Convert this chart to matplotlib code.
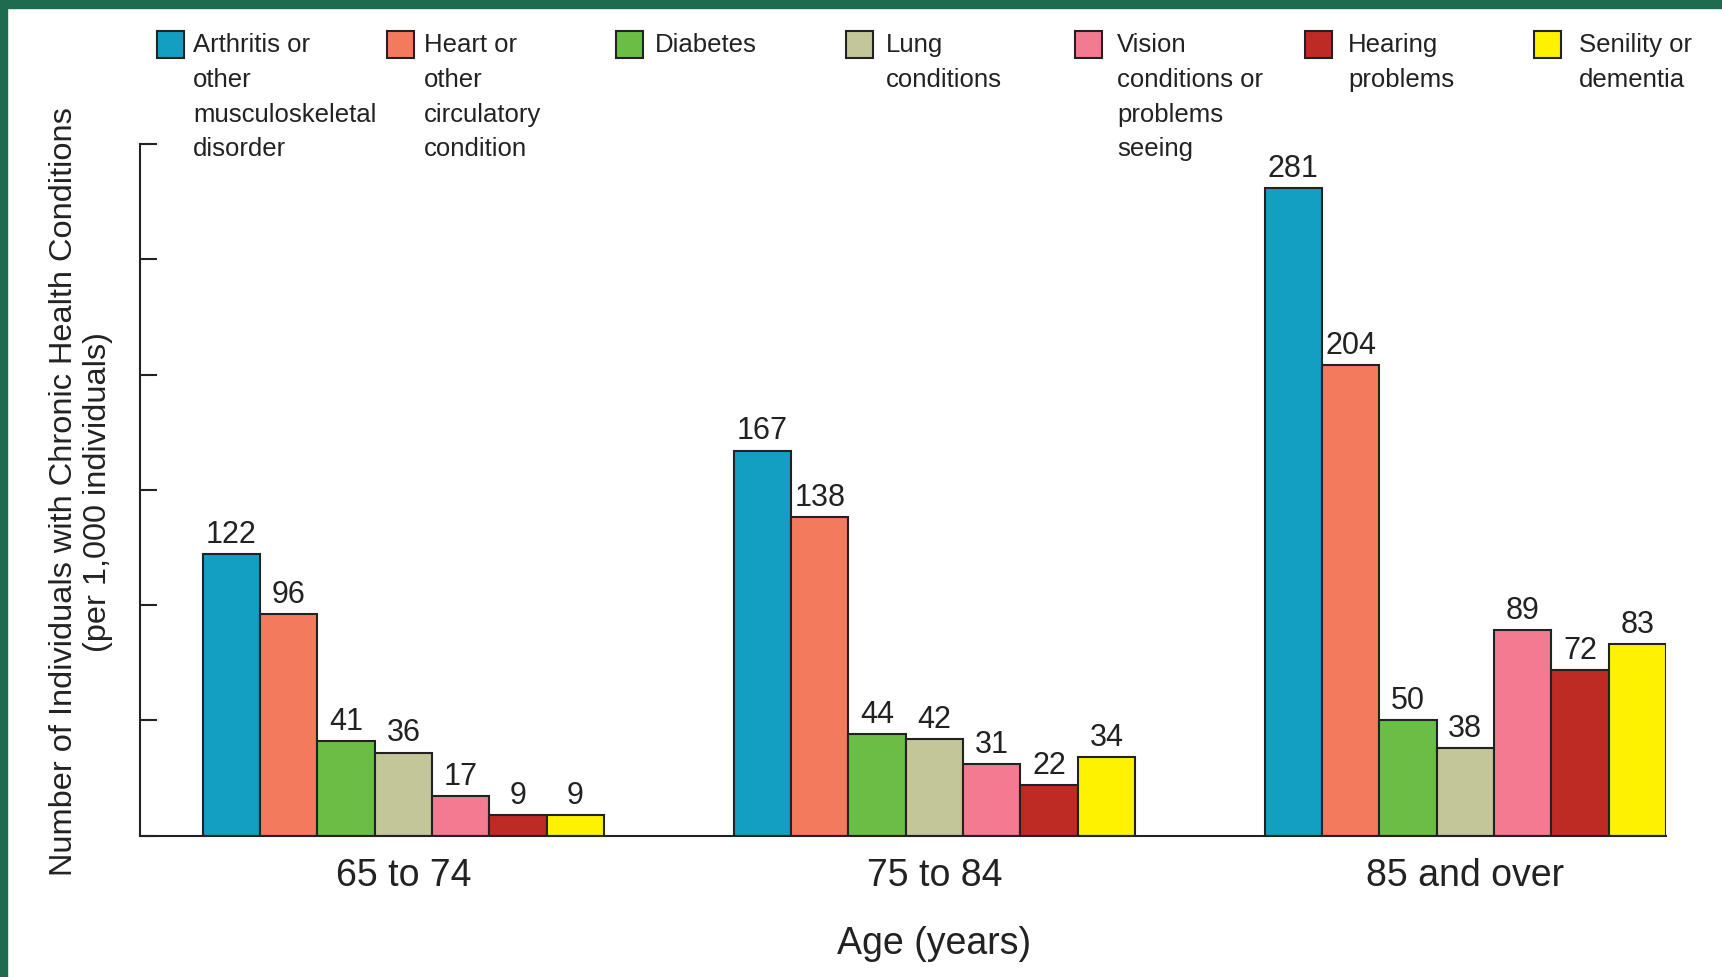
import numpy as np
import matplotlib.pyplot as plt
import matplotlib.transforms as mtransforms
from matplotlib.patches import Rectangle

# --- DATA ---
age_groups = ["65 to 74", "75 to 84", "85 and over"]
conditions = [
    "Arthritis or\nother\nmusculoskeletal\ndisorder",
    "Heart or\nother\ncirculatory\ncondition",
    "Diabetes",
    "Lung\nconditions",
    "Vision\nconditions or\nproblems\nseeing",
    "Hearing\nproblems",
    "Senility or\ndementia",
]
arthritis = [122, 167, 281]
heart = [96, 138, 204]
diabetes = [41, 44, 50]
lung = [36, 42, 38]
vision = [17, 31, 89]
hearing = [9, 22, 72]
senility = [9, 34, 83]
series = [arthritis, heart, diabetes, lung, vision, hearing, senility]

colors = ["#139fc1", "#f47a5e", "#6abd45", "#c3c698", "#f27a91", "#be2b25", "#fff200"]
edge = "#222222"
txt = "#222222"

plt.rcParams["font.family"] = ["Liberation Sans", "DejaVu Sans"]

W, H = 1722, 977
fig = plt.figure(figsize=(W / 100, H / 100), dpi=100)
ax = fig.add_axes([139.5 / W, 1 - 835.6 / H, (1666 - 139.5) / W, (835.6 - 144) / H])

# --- BARS ---
x = np.arange(len(age_groups))
w = 0.108
for i, vals in enumerate(series):
    pos = x + (i - 3) * w
    bars = ax.bar(pos, vals, width=w, color=colors[i], edgecolor=edge, linewidth=1.5, zorder=2)
    for b, v in zip(bars, vals):
        ax.annotate(str(v), (b.get_x() + b.get_width() / 2, v), xytext=(0, 8),
                    textcoords="offset points", ha="center", va="baseline",
                    fontsize=22, color=txt)

ax.set_xlim(-0.497, 2 + 3.5 * w)
ax.set_ylim(0, 300)
ax.set_yticks(np.arange(0, 301, 50))
ax.set_yticklabels([])
ax.tick_params(axis="y", direction="in", length=12, width=1.5, color=edge)
ax.set_xticks(x)
ax.set_xticklabels(age_groups, fontsize=27, color=txt)
ax.tick_params(axis="x", length=0, pad=16)
for s in ["top", "right"]:
    ax.spines[s].set_visible(False)
for s in ["left", "bottom"]:
    ax.spines[s].set_linewidth(1.5)
    ax.spines[s].set_color(edge)

# x label centred on the middle group
ax.set_xlabel("Age (years)", fontsize=27, color=txt)
ax.xaxis.set_label_coords(1, 1 - 944 / H,
                          transform=mtransforms.blended_transform_factory(ax.transData, fig.transFigure))
ax.xaxis.label.set_va("center")

# y label
fig.text(81 / W, 1 - 492 / H,
         "Number of Individuals with Chronic Health Conditions\n(per 1,000 individuals)",
         rotation=90, ha="center", va="center", multialignment="center",
         fontsize=23.4, color=txt, linespacing=1.15)

# --- LEGEND (manual, across the top) ---
for i, lab in enumerate(conditions):
    x0 = 157 + i * 229.5
    fig.patches.append(Rectangle((x0 / W, 1 - 58 / H), 27 / W, 27 / H, transform=fig.transFigure,
                                 facecolor=colors[i], edgecolor=edge, linewidth=1.5))
    fig.text((193 + i * 231) / W, 1 - 33 / H, lab, ha="left", va="top", fontsize=18.5,
             color=txt, linespacing=1.57)

# --- GREEN FRAME ---
frame = "#1f6b4f"
fig.patches.append(Rectangle((0, 1 - 8 / H), 1, 8 / H, transform=fig.transFigure, color=frame))
fig.patches.append(Rectangle((0, 0), 7 / W, 1, transform=fig.transFigure, color=frame))

fig.savefig("out.png", dpi=100)
